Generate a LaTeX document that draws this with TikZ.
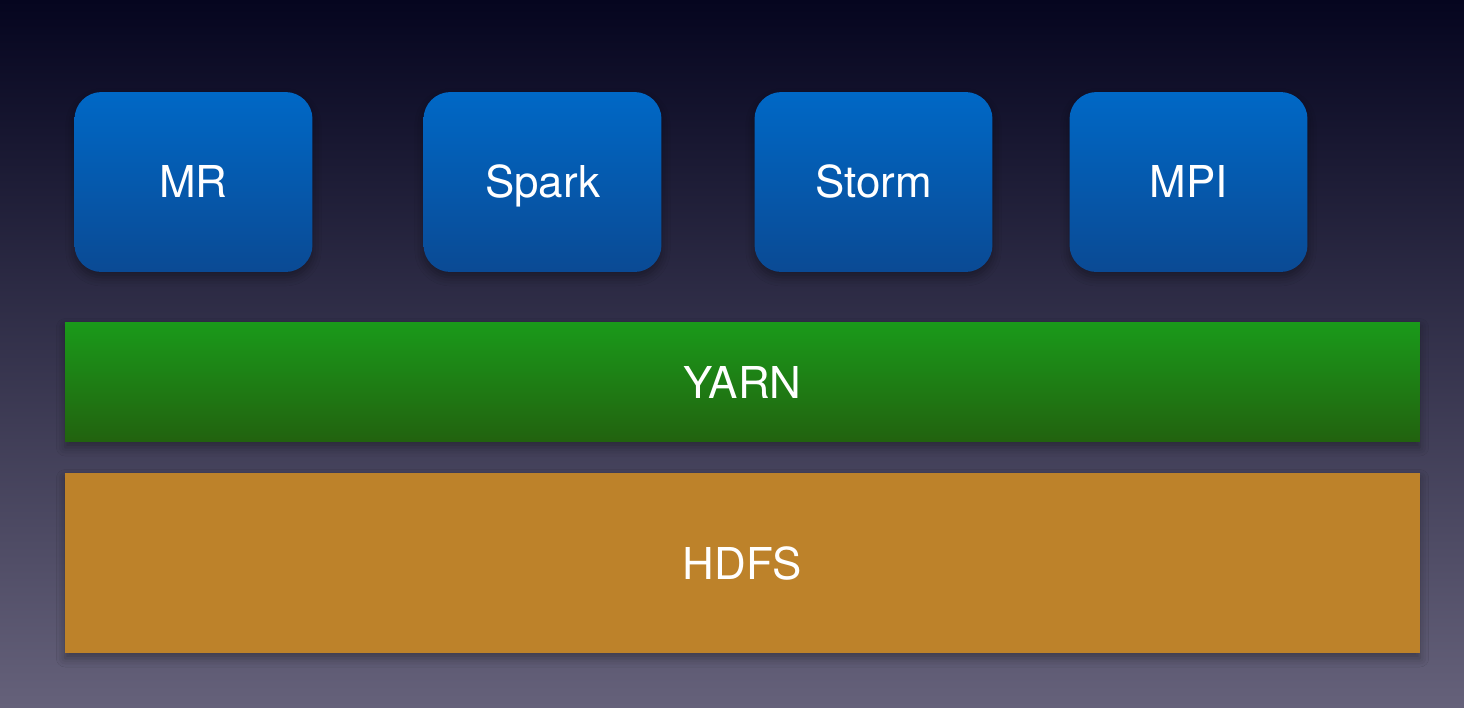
\documentclass[tikz,border=0pt]{standalone}
\usepackage{fontspec}
\setmainfont{TeX Gyre Heros}
\usetikzlibrary{shadows.blur}

\definecolor{bgtop}{HTML}{05051F}
\definecolor{bgbot}{HTML}{65617A}
\definecolor{fwtop}{HTML}{0068C6}
\definecolor{fwbot}{HTML}{0A4A94}
\definecolor{yarntop}{HTML}{1A9A1A}
\definecolor{yarnbot}{HTML}{22620F}
\definecolor{hdfscol}{HTML}{BD822A}

\tikzset{
  fw/.style={rounded corners=0.54cm, minimum width=4.76cm, minimum height=3.6cm,
    text height=18pt, text depth=0pt,
    top color=fwtop, bottom color=fwbot, text=white, font=\fontsize{25}{30}\selectfont,
    blur shadow={shadow xshift=0pt, shadow yshift=-3pt, shadow blur radius=5pt, shadow opacity=35}},
  layer/.style={minimum width=27.1cm, text=white, font=\fontsize{25}{30}\selectfont,
    blur shadow={shadow xshift=0pt, shadow yshift=-3pt, shadow blur radius=5pt, shadow opacity=35}}
}

\begin{document}
\begin{tikzpicture}[x=0.02cm, y=-0.02cm]
           % background
           \shade[top color=bgtop, bottom color=bgbot] (0,0) rectangle (1464,707);
           \useasboundingbox (0,0) rectangle (1464,707);
           % frameworks
           \node[fw] (mr) at (193.5,182) {MR};
           \node[fw] (spark) at (542.5,182) {Spark};
           \node[fw] (storm) at (873.5,182) {Storm};
           \node[fw] (mpi) at (1188.5,182) {MPI};
           % resource manager
           \node[layer, minimum height=2.4cm, top color=yarntop, bottom color=yarnbot] (yarn) at (742.5,382) {YARN};
           % storage
           \node[layer, minimum height=3.6cm, fill=hdfscol] (hdfs) at (742.5,563) {HDFS};
\end{tikzpicture}
\end{document}
